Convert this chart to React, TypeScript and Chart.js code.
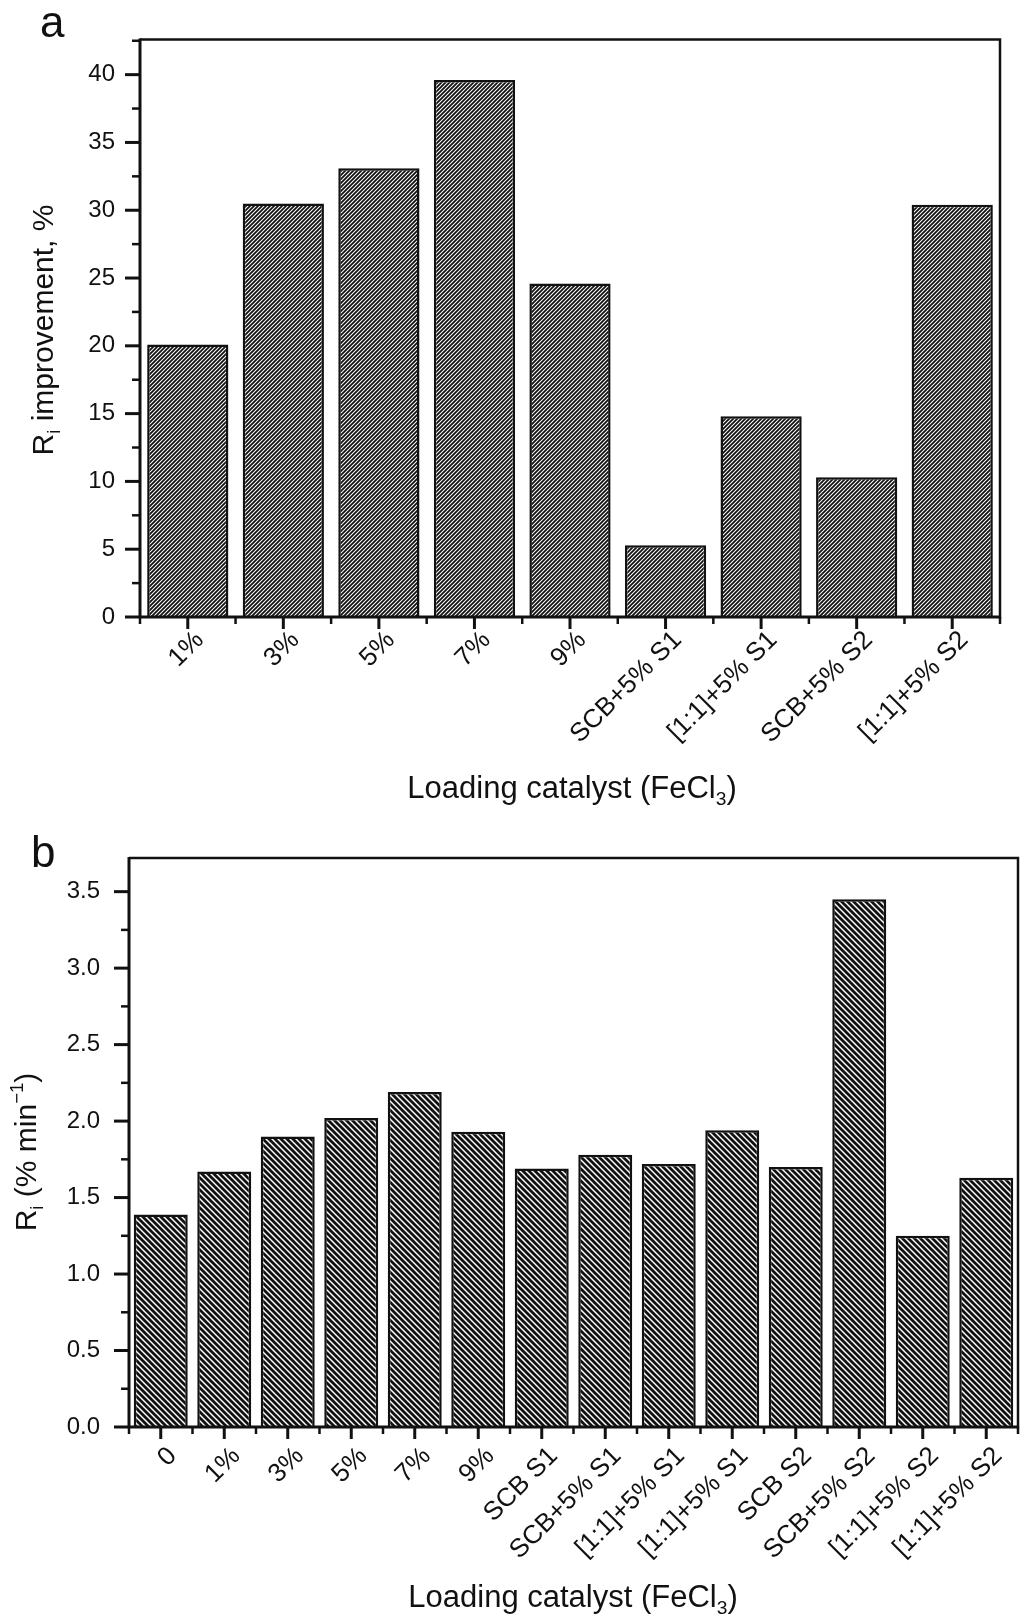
import React, { useEffect, useRef } from "react";
import { Chart, registerables } from "chart.js";
Chart.register(...registerables);

// ---------- data ----------
const categoriesA = ["1%", "3%", "5%", "7%", "9%", "SCB+5% S1", "[1:1]+5% S1", "SCB+5% S2", "[1:1]+5% S2"];
const valuesA = [20.1, 30.5, 33.1, 39.6, 24.6, 5.3, 14.8, 10.3, 30.4];
const yTicksA = [0, 5, 10, 15, 20, 25, 30, 35, 40];

const categoriesB = ["0", "1%", "3%", "5%", "7%", "9%", "SCB S1", "SCB+5% S1", "[1:1]+5% S1", "[1:1]+5% S1", "SCB S2", "SCB+5% S2", "[1:1]+5% S2", "[1:1]+5% S2"];
const valuesB = [1.39, 1.67, 1.9, 2.02, 2.19, 1.93, 1.69, 1.78, 1.72, 1.94, 1.7, 3.45, 1.25, 1.63];
const yTicksB = [0.0, 0.5, 1.0, 1.5, 2.0, 2.5, 3.0, 3.5];

const FONT = '"Liberation Sans", Arial, Helvetica, sans-serif';

type Seg = { t: string; s?: "sub" | "sup" };

function makeHatch(size: number, lw: number, dir: "/" | "\\"): CanvasPattern | string {
  const c = document.createElement("canvas");
  c.width = size;
  c.height = size;
  const g = c.getContext("2d");
  if (!g) return "#555";
  g.fillStyle = "#ffffff";
  g.fillRect(0, 0, size, size);
  g.strokeStyle = "#111111";
  g.lineWidth = lw;
  g.beginPath();
  if (dir === "/") {
    g.moveTo(0, size); g.lineTo(size, 0);
    g.moveTo(-2, 2); g.lineTo(2, -2);
    g.moveTo(size - 2, size + 2); g.lineTo(size + 2, size - 2);
  } else {
    g.moveTo(0, 0); g.lineTo(size, size);
    g.moveTo(-2, size - 2); g.lineTo(2, size + 2);
    g.moveTo(size - 2, -2); g.lineTo(size + 2, 2);
  }
  g.stroke();
  const p = g.createPattern(c, "repeat");
  return p || "#555";
}

function drawRich(ctx: CanvasRenderingContext2D, segs: Seg[], x: number, y: number, size: number, rotate: boolean) {
  ctx.save();
  ctx.translate(x, y);
  if (rotate) ctx.rotate(-Math.PI / 2);
  ctx.textAlign = "left";
  ctx.textBaseline = "alphabetic";
  ctx.fillStyle = "#111";
  const sizes = segs.map((s) => (s.s ? size * 0.62 : size));
  let total = 0;
  segs.forEach((s, i) => {
    ctx.font = `${sizes[i]}px ${FONT}`;
    total += ctx.measureText(s.t).width;
  });
  let cx = -total / 2;
  segs.forEach((s, i) => {
    ctx.font = `${sizes[i]}px ${FONT}`;
    const dy = s.s === "sub" ? size * 0.22 : s.s === "sup" ? -size * 0.42 : 0;
    ctx.fillText(s.t, cx, dy);
    cx += ctx.measureText(s.t).width;
  });
  ctx.restore();
}

interface PanelOpts {
  majors: number[];
  minors: number[];
  n: number;
  yTitle: Seg[];
  yTitlePos: [number, number];
  xTitle: Seg[];
  xTitlePos: [number, number];
  letter: string;
  letterPos: [number, number];
}

const decorPlugin = {
  id: "decor",
  afterDraw(chart: any, _args: any, o: PanelOpts) {
    const { ctx, chartArea: a, scales } = chart;
    const x = scales.x;
    const y = scales.y;
    ctx.save();
    ctx.strokeStyle = "#111";
    ctx.lineCap = "butt";
    // frame top/right
    ctx.lineWidth = 2.5;
    ctx.beginPath();
    ctx.moveTo(a.left, a.top);
    ctx.lineTo(a.right, a.top);
    ctx.lineTo(a.right, a.bottom + 1.5);
    ctx.stroke();
    // axes left/bottom
    ctx.lineWidth = 3;
    ctx.beginPath();
    ctx.moveTo(a.left, a.top - 1);
    ctx.lineTo(a.left, a.bottom);
    ctx.lineTo(a.right + 1, a.bottom);
    ctx.stroke();
    // y ticks
    ctx.lineWidth = 3;
    o.majors.forEach((v) => {
      const py = y.getPixelForValue(v);
      ctx.beginPath(); ctx.moveTo(a.left - 15, py); ctx.lineTo(a.left, py); ctx.stroke();
    });
    ctx.lineWidth = 2.5;
    o.minors.forEach((v) => {
      const py = y.getPixelForValue(v);
      if (py < a.top - 2) return;
      ctx.beginPath(); ctx.moveTo(a.left - 8, py); ctx.lineTo(a.left, py); ctx.stroke();
    });
    // x ticks
    ctx.lineWidth = 3;
    for (let i = 0; i < o.n; i++) {
      const px = x.getPixelForValue(i);
      ctx.beginPath(); ctx.moveTo(px, a.bottom); ctx.lineTo(px, a.bottom + 12); ctx.stroke();
    }
    ctx.lineWidth = 2.5;
    for (let i = 0; i <= o.n; i++) {
      const px = x.getPixelForValue(i - 0.5);
      ctx.beginPath(); ctx.moveTo(px, a.bottom); ctx.lineTo(px, a.bottom + 7); ctx.stroke();
    }
    // titles
    drawRich(ctx, o.yTitle, o.yTitlePos[0], o.yTitlePos[1], 30, true);
    drawRich(ctx, o.xTitle, o.xTitlePos[0], o.xTitlePos[1], 31, false);
    ctx.fillStyle = "#111";
    ctx.font = `44px ${FONT}`;
    ctx.textAlign = "left";
    ctx.textBaseline = "alphabetic";
    ctx.fillText(o.letter, o.letterPos[0], o.letterPos[1]);
    ctx.restore();
  },
};

function makeConfig(
  cats: string[],
  vals: number[],
  ticks: number[],
  yMax: number,
  hatch: CanvasPattern | string,
  yWidth: number,
  xHeight: number,
  padding: { top: number; right: number },
  tickPad: number,
  xPad: number,
  xShift: number,
  barPct: number,
  decor: PanelOpts,
  fmt: (v: number) => string
): any {
  return {
    type: "bar",
    data: {
      labels: cats,
      datasets: [
        {
          data: vals,
          backgroundColor: hatch,
          borderColor: "#111",
          borderWidth: 2.5,
          borderSkipped: "start",
          barPercentage: barPct,
          categoryPercentage: 1,
        },
      ],
    },
    options: {
      animation: false,
      responsive: false,
      devicePixelRatio: 1,
      layout: { padding: { top: padding.top, right: padding.right, left: 0, bottom: 0 } },
      plugins: { legend: { display: false }, tooltip: { enabled: false }, decor },
      scales: {
        x: {
          grid: { display: false, drawTicks: false },
          border: { display: false },
          ticks: {
            autoSkip: false,
            minRotation: 45,
            maxRotation: 45,
            padding: xPad,
            labelOffset: xShift,
            color: "#111",
            font: { family: FONT, size: 26 },
          },
          afterFit: (s: any) => { s.height = xHeight; },
        },
        y: {
          min: 0,
          max: yMax,
          grid: { display: false, drawTicks: false },
          border: { display: false },
          ticks: {
            padding: tickPad,
            color: "#111",
            font: { family: FONT, size: 24 },
            callback: (v: number) => fmt(v),
          },
          afterBuildTicks: (s: any) => { s.ticks = ticks.map((v) => ({ value: v })); },
          afterFit: (s: any) => { s.width = yWidth; },
        },
      },
    },
    plugins: [decorPlugin],
  };
}

function halfSteps(major: number[], step: number, max: number): number[] {
  const out: number[] = [];
  major.forEach((v) => { if (v + step / 2 <= max) out.push(v + step / 2); });
  return out;
}

export default function App() {
  const refA = useRef<HTMLCanvasElement>(null);
  const refB = useRef<HTMLCanvasElement>(null);
  useEffect(() => {
    if (!refA.current || !refB.current) return;
    const hatchA = makeHatch(4, 1.8, "/");
    const hatchB = makeHatch(6, 2.8, "\\");
    const cA = new Chart(
      refA.current,
      makeConfig(categoriesA, valuesA, yTicksA, 42.6, hatchA, 140, 193, { top: 30, right: 24 }, 25, 8, 12, 0.85,
        {
          majors: yTicksA,
          minors: halfSteps(yTicksA, 5, 42.6),
          n: categoriesA.length,
          yTitle: [{ t: "R" }, { t: "i", s: "sub" }, { t: " improvement, %" }],
          yTitlePos: [53, 330],
          xTitle: [{ t: "Loading catalyst (FeCl" }, { t: "3", s: "sub" }, { t: ")" }],
          xTitlePos: [572, 798],
          letter: "a",
          letterPos: [40, 37],
        },
        (v) => String(v))
    );
    const cB = new Chart(
      refB.current,
      makeConfig(categoriesB, valuesB, yTicksB, 3.72, hatchB, 129, 197, { top: 48, right: 6 }, 29, 14, 12, 0.85,
        {
          majors: yTicksB,
          minors: halfSteps(yTicksB, 0.5, 3.72),
          n: categoriesB.length,
          yTitle: [{ t: "R" }, { t: "i", s: "sub" }, { t: " (% min" }, { t: "\u22121", s: "sup" }, { t: ")" }],
          yTitlePos: [36, 342],
          xTitle: [{ t: "Loading catalyst (FeCl" }, { t: "3", s: "sub" }, { t: ")" }],
          xTitlePos: [573, 797],
          letter: "b",
          letterPos: [31, 57],
        },
        (v) => v.toFixed(1))
    );
    return () => { cA.destroy(); cB.destroy(); };
  }, []);
  return (
    <div style={{ position: "absolute", left: 0, top: 0, width: 1024, height: 1624, background: "#fff" }}>
      <canvas ref={refA} width={1024} height={810} style={{ position: "absolute", left: 0, top: 0, width: 1024, height: 810 }} />
      <canvas ref={refB} width={1024} height={814} style={{ position: "absolute", left: 0, top: 810, width: 1024, height: 814 }} />
    </div>
  );
}
